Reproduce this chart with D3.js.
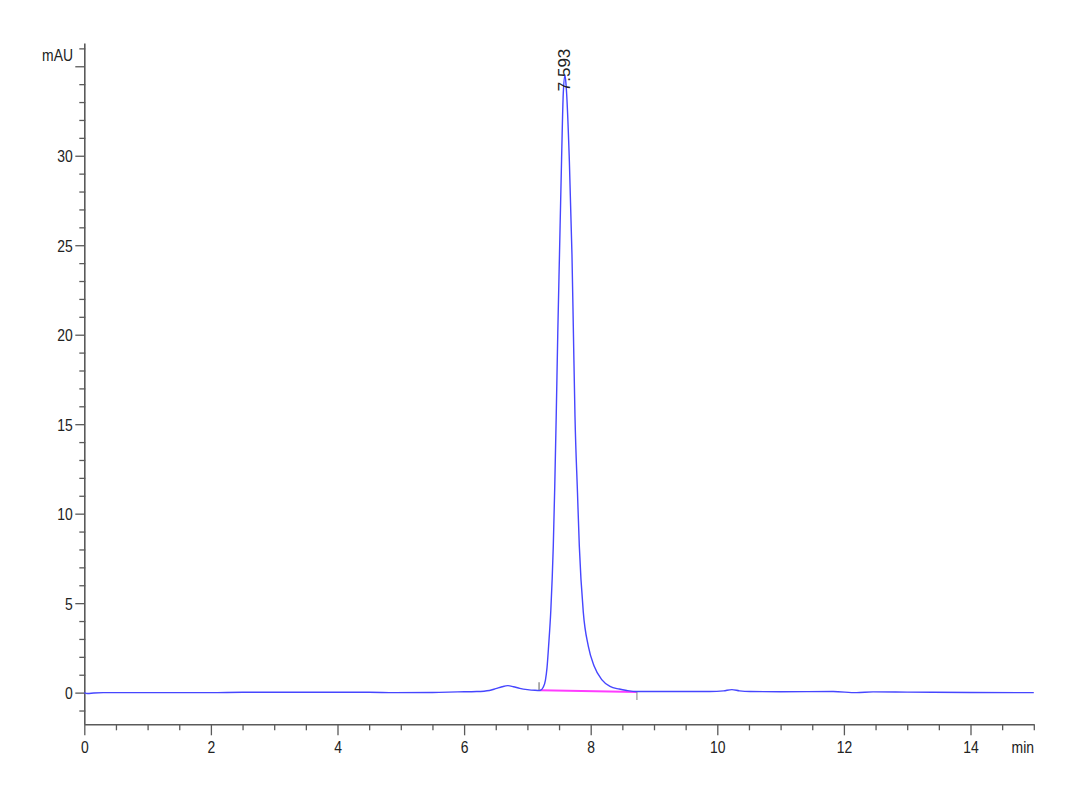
<!DOCTYPE html>
<html>
<head>
<meta charset="utf-8">
<script src="https://cdn.jsdelivr.net/npm/d3@7"></script>
<style>
  html, body { margin: 0; padding: 0; background: #fff; }
  svg { display: block; }
  text { font-family: "Liberation Sans", Arial, sans-serif; fill: #222; }
</style>
</head>
<body>
<svg id="chart" width="1080" height="792"></svg>
<script>
// ---- data ----
const timeMin = [0.00, 0.05, 0.15, 0.30, 1.00, 2.00, 2.50, 3.50, 4.50, 4.90, 5.50, 5.90, 6.20, 6.40, 6.50, 6.60, 6.69, 6.78, 6.88, 7.00, 7.12, 7.20,
  7.25, 7.285, 7.31, 7.335, 7.37, 7.409, 7.432, 7.455, 7.48, 7.507, 7.54, 7.567, 7.594, 7.612, 7.662, 7.704, 7.727, 7.752, 7.791, 7.82,
  7.883, 7.962, 8.052, 8.174, 8.305, 8.45, 8.57, 8.73, 9.20, 9.88, 10.10, 10.23, 10.35, 10.52, 11.00, 11.83, 12.20, 12.46, 13.00, 14.00, 15.00];
const absorbance = [0.00, -0.05, -0.02, 0.00, 0.00, 0.00, 0.02, 0.02, 0.02, 0.00, 0.01, 0.04, 0.06, 0.12, 0.22, 0.33, 0.39, 0.33, 0.24, 0.17, 0.13, 0.12,
  0.30, 0.70, 1.4, 2.6, 4.6, 8.2, 11.5, 15.4, 20.1, 24.5, 29.8, 33.5, 34.5, 33.9, 29.8, 24.5, 20.1, 15.4, 11.2, 8.2,
  4.5, 2.6, 1.5, 0.73, 0.35, 0.20, 0.12, 0.06, 0.06, 0.06, 0.10, 0.17, 0.10, 0.06, 0.05, 0.06, 0.00, 0.04, 0.03, 0.01, 0.00];

const peakTimes = [7.593];
const peakLabels = ["7.593"];
const peakHeights = [34.5];

const baselineTimes = [7.20, 8.73];
const baselineValues = [0.13, 0.04];

const xMajorTicks = [0, 2, 4, 6, 8, 10, 12, 14];
const yMajorTicks = [0, 5, 10, 15, 20, 25, 30, 35];
const yTickLabels = ["0", "5", "10", "15", "20", "25", "30", ""];
const xUnit = "min";
const yUnit = "mAU";

// ---- layout ----
const svg = d3.select("#chart");
const x = d3.scaleLinear().domain([0, 15]).range([84.3, 1033.8]);
const y = d3.scaleLinear().domain([-1.77, 36.3]).range([724.3, 43]);
const axisColor = "#5a5a5a";
const squeeze = 0.82;

// x axis: minor ticks
const xMinor = d3.range(0, 15.001, 0.5).filter(v => Math.abs(v % 2) > 1e-9);
svg.append("g").attr("transform", `translate(0,${y.range()[0]})`)
  .call(d3.axisBottom(x).tickValues(xMinor).tickSize(6).tickFormat(""))
  .call(g => g.select(".domain").remove())
  .selectAll("line").attr("stroke", axisColor).attr("stroke-width", 1.3);

// x axis: major ticks + domain
const gx = svg.append("g").attr("transform", `translate(0,${y.range()[0]})`)
  .call(d3.axisBottom(x).tickValues(xMajorTicks).tickSize(11).tickSizeOuter(0).tickFormat(d3.format("d")));
gx.select(".domain").attr("stroke", axisColor).attr("stroke-width", 1.6);
gx.selectAll(".tick line").attr("stroke", axisColor).attr("stroke-width", 1.3);
gx.selectAll(".tick text")
  .attr("y", 0).attr("dy", 0)
  .attr("transform", `translate(0,29) scale(${squeeze},1)`)
  .style("font-size", "17px").style("font-family", "Liberation Sans, Arial, sans-serif").attr("fill", "#222");

svg.append("text").attr("text-anchor", "end")
  .attr("transform", `translate(1034,753) scale(${squeeze},1)`)
  .style("font-size", "17px").text(xUnit);

// y axis: minor ticks
const yMinor = d3.range(-1, 36.001, 1).filter(v => v % 5 !== 0);
svg.append("g").attr("transform", `translate(${x.range()[0] + 1},0)`)
  .call(d3.axisLeft(y).tickValues(yMinor).tickSize(6).tickFormat(""))
  .call(g => g.select(".domain").remove())
  .selectAll("line").attr("stroke", axisColor).attr("stroke-width", 1.3);

// y axis: major ticks + domain
const gy = svg.append("g").attr("transform", `translate(${x.range()[0]},0)`)
  .call(d3.axisLeft(y).tickValues(yMajorTicks).tickSize(9).tickSizeOuter(0)
    .tickFormat((d, i) => yTickLabels[i]));
gy.select(".domain").attr("stroke", axisColor).attr("stroke-width", 1.6);
gy.selectAll(".tick line").attr("stroke", axisColor).attr("stroke-width", 1.3);
gy.selectAll(".tick text")
  .attr("x", 0).attr("dy", "0.36em")
  .attr("transform", `translate(-11.5,0) scale(${squeeze},1)`)
  .style("font-size", "17px").style("font-family", "Liberation Sans, Arial, sans-serif").attr("fill", "#222");

svg.append("text").attr("text-anchor", "end")
  .attr("transform", `translate(73,61) scale(${squeeze},1)`)
  .style("font-size", "17px").text(yUnit);

// ---- integration baseline (magenta) ----
const bl = baselineTimes.map((t, i) => [t, baselineValues[i]]);
svg.append("path")
  .attr("d", d3.line().x(d => x(d[0])).y(d => y(d[1]))(bl))
  .attr("fill", "none").attr("stroke", "#ff3cff").attr("stroke-width", 2);

// integration markers
svg.append("line")
  .attr("x1", x(baselineTimes[0]) - 1).attr("x2", x(baselineTimes[0]) - 1)
  .attr("y1", y(baselineValues[0]) - 8).attr("y2", y(baselineValues[0]))
  .attr("stroke", "#777").attr("stroke-width", 1.2);
svg.append("line")
  .attr("x1", x(baselineTimes[1])).attr("x2", x(baselineTimes[1]))
  .attr("y1", y(baselineValues[1])).attr("y2", y(baselineValues[1]) + 8)
  .attr("stroke", "#999").attr("stroke-width", 1.2);

// ---- signal ----
const pts = timeMin.map((t, i) => [t, absorbance[i]]);
svg.append("path")
  .attr("d", d3.line().curve(d3.curveMonotoneX).x(d => x(d[0])).y(d => y(d[1]))(pts))
  .attr("fill", "none").attr("stroke", "#4646ff").attr("stroke-width", 1.4);

// ---- peak labels ----
peakTimes.forEach((t, i) => {
  svg.append("text")
    .attr("transform", `translate(${x(t) + 5.5},${y(peakHeights[i]) + 16}) rotate(-90)`)
    .attr("text-anchor", "start")
    .style("font-size", "17px")
    .text(peakLabels[i]);
});
</script>
</body>
</html>
